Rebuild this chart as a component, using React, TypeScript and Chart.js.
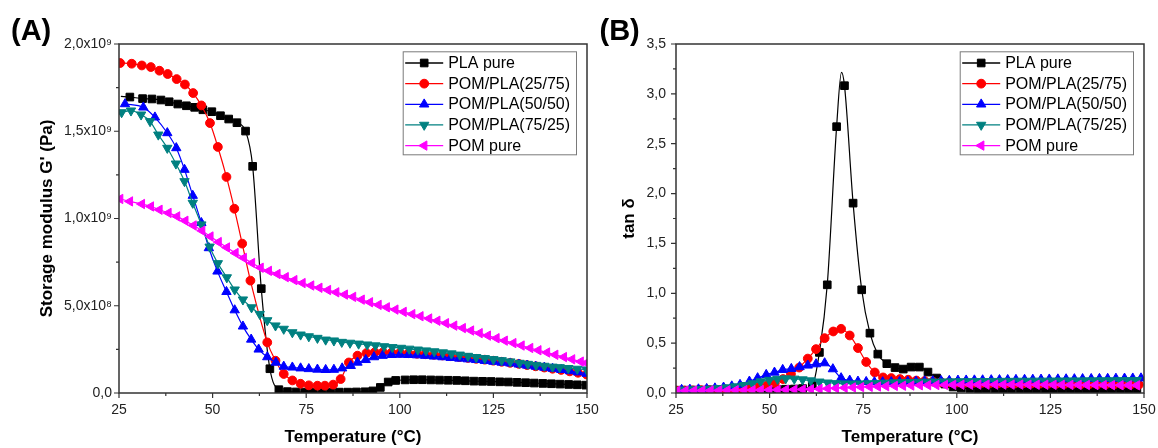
import React, { useEffect, useRef } from "react";
import { Chart, registerables } from "chart.js";

Chart.register(...registerables);

const FONT = 'Arial, "Liberation Sans", Helvetica, sans-serif';
const AXIS_COLOR = "#333333";

// ---------- shared series styling ----------
const seriesLabels = ["PLA pure", "POM/PLA(25/75)", "POM/PLA(50/50)", "POM/PLA(75/25)", "POM pure"];
const seriesColors = ["#000000", "#FF0000", "#0000FF", "#008080", "#FF00FF"];
const markerStyles = ["rect", "circle", "triangle", "triangle", "triangle"];
const markerRotations = [0, 0, 0, 180, -90];
const markerRadii = [5.4, 4.4, 5.4, 5.4, 5.4];

// ---------- axis tick labels ----------
const xTickLabels = ["25", "50", "75", "100", "125", "150"];
const yTickLabelsA = ["0,0", "5,0x10⁸", "1,0x10⁹", "1,5x10⁹", "2,0x10⁹"];
const yTickLabelsB = ["0,0", "0,5", "1,0", "1,5", "2,0", "2,5", "3,0", "3,5"];

// ---------- Panel A : storage modulus (units of 10^9 Pa) ----------
const plaTempA = [25.5, 27.9, 31.3, 33.8, 36.2, 38.4, 40.7, 43.0, 45.2, 47.4, 49.8, 52.1, 54.3, 56.5, 58.8, 60.7, 63.0, 65.3, 67.7, 70.0, 72.3, 74.6, 76.9, 79.2, 81.5, 83.8, 86.1, 88.4, 90.7, 92.8, 94.8, 96.9, 98.9, 101.4, 103.7, 106.0, 108.3, 110.6, 112.9, 115.2, 117.5, 119.8, 122.1, 124.4, 126.7, 129.0, 131.3, 133.6, 135.9, 138.2, 140.5, 142.8, 145.1, 147.4, 149.7];
const plaModA = [1.700, 1.696, 1.687, 1.685, 1.679, 1.669, 1.656, 1.646, 1.637, 1.623, 1.612, 1.589, 1.570, 1.549, 1.501, 1.299, 0.598, 0.139, 0.019, 0.008, 0.006, 0.005, 0.005, 0.005, 0.005, 0.005, 0.005, 0.006, 0.007, 0.012, 0.032, 0.063, 0.072, 0.075, 0.076, 0.076, 0.075, 0.074, 0.073, 0.072, 0.070, 0.068, 0.067, 0.066, 0.064, 0.063, 0.061, 0.059, 0.057, 0.055, 0.053, 0.051, 0.049, 0.047, 0.045];
const plaLineOnlyA = [0];

const b2575TempA = [25.3, 28.4, 31.1, 33.5, 35.8, 38.0, 40.4, 42.6, 44.8, 47.0, 49.3, 51.4, 53.7, 55.8, 57.9, 60.1, 64.6, 66.8, 69.0, 71.3, 73.5, 75.7, 78.0, 80.0, 82.2, 84.2, 86.4, 88.7, 91.1, 93.3, 95.5, 97.8, 100.0, 102.3, 104.6, 106.8, 109.1, 111.4, 113.6, 115.9, 118.2, 120.4, 122.7, 125.0, 127.2, 129.5, 131.8, 134.0, 136.3, 138.6, 140.8, 143.1, 145.4, 147.6, 149.9];
const b2575ModA = [1.891, 1.887, 1.877, 1.868, 1.847, 1.828, 1.799, 1.768, 1.719, 1.648, 1.547, 1.410, 1.238, 1.056, 0.856, 0.644, 0.290, 0.185, 0.109, 0.072, 0.053, 0.044, 0.042, 0.042, 0.048, 0.080, 0.175, 0.214, 0.229, 0.233, 0.233, 0.231, 0.230, 0.228, 0.225, 0.222, 0.219, 0.215, 0.211, 0.206, 0.201, 0.196, 0.191, 0.185, 0.179, 0.173, 0.167, 0.160, 0.153, 0.146, 0.139, 0.132, 0.124, 0.116, 0.106];

const b5050TempA = [26.6, 31.5, 34.6, 37.9, 40.3, 42.5, 44.7, 47.0, 49.0, 51.3, 53.7, 55.9, 58.1, 60.3, 62.3, 64.6, 66.9, 69.0, 71.3, 73.5, 75.7, 78.0, 80.2, 82.4, 84.6, 86.9, 88.7, 90.9, 93.1, 95.4, 97.8, 100.0, 102.3, 104.6, 106.8, 109.1, 111.4, 113.6, 115.9, 118.2, 120.4, 122.7, 125.0, 127.2, 129.5, 131.8, 134.0, 136.3, 138.6, 140.8, 143.1, 145.4, 147.6, 149.9];
const b5050ModA = [1.656, 1.637, 1.580, 1.490, 1.404, 1.280, 1.131, 0.975, 0.831, 0.697, 0.580, 0.475, 0.382, 0.307, 0.250, 0.206, 0.175, 0.152, 0.147, 0.142, 0.138, 0.135, 0.133, 0.134, 0.142, 0.156, 0.175, 0.190, 0.206, 0.214, 0.219, 0.220, 0.219, 0.217, 0.214, 0.210, 0.206, 0.202, 0.198, 0.194, 0.190, 0.185, 0.180, 0.175, 0.170, 0.164, 0.158, 0.152, 0.146, 0.140, 0.133, 0.126, 0.119, 0.111];

const b7525TempA = [25.7, 28.2, 30.9, 33.3, 35.5, 37.9, 40.2, 42.5, 44.7, 47.0, 49.2, 51.4, 53.8, 55.9, 58.1, 60.4, 62.6, 64.6, 66.8, 69.0, 71.3, 73.5, 75.7, 78.0, 80.2, 82.4, 84.5, 86.7, 89.0, 91.3, 93.5, 95.8, 98.0, 100.3, 102.5, 104.8, 107.0, 109.2, 111.5, 113.8, 116.0, 118.2, 120.4, 122.7, 125.0, 127.2, 129.5, 132.0, 134.2, 136.4, 138.6, 140.8, 142.7, 145.0, 147.4, 149.9];
const b7525ModA = [1.608, 1.618, 1.595, 1.557, 1.480, 1.404, 1.314, 1.213, 1.089, 0.965, 0.838, 0.743, 0.662, 0.592, 0.535, 0.490, 0.452, 0.416, 0.386, 0.367, 0.347, 0.334, 0.324, 0.315, 0.305, 0.300, 0.292, 0.287, 0.282, 0.277, 0.272, 0.267, 0.262, 0.258, 0.253, 0.248, 0.243, 0.238, 0.232, 0.226, 0.219, 0.212, 0.205, 0.199, 0.193, 0.187, 0.180, 0.172, 0.166, 0.160, 0.155, 0.150, 0.147, 0.142, 0.138, 0.134];

const pomTempA = [25.3, 27.9, 31.1, 33.5, 35.8, 38.2, 40.5, 42.7, 44.9, 47.2, 49.4, 51.6, 53.8, 56.1, 58.3, 60.5, 62.8, 65.0, 67.3, 69.5, 71.8, 74.0, 76.3, 78.5, 80.8, 83.0, 85.3, 87.5, 89.8, 92.0, 94.3, 96.5, 98.8, 101.0, 103.3, 105.5, 107.8, 110.0, 112.3, 114.5, 116.8, 119.0, 121.3, 123.5, 125.8, 128.0, 130.3, 132.5, 134.8, 137.0, 139.3, 141.5, 143.8, 146.0, 148.3, 149.8];
const pomModA = [1.112, 1.098, 1.083, 1.069, 1.050, 1.032, 1.012, 0.987, 0.960, 0.930, 0.897, 0.865, 0.834, 0.802, 0.774, 0.745, 0.718, 0.700, 0.682, 0.664, 0.647, 0.630, 0.616, 0.603, 0.590, 0.577, 0.564, 0.551, 0.535, 0.520, 0.505, 0.491, 0.478, 0.465, 0.452, 0.440, 0.427, 0.414, 0.400, 0.386, 0.372, 0.358, 0.343, 0.329, 0.314, 0.300, 0.286, 0.272, 0.258, 0.245, 0.232, 0.219, 0.206, 0.193, 0.180, 0.172];

// ---------- Panel B : tan delta ----------
const plaTempB = [25.3, 27.5, 29.8, 32.0, 34.2, 36.5, 38.7, 40.9, 43.2, 45.4, 47.6, 49.9, 52.1, 54.3, 56.6, 58.8, 61.4, 63.3, 65.4, 67.9, 69.2, 70.0, 72.3, 74.6, 76.8, 78.9, 81.3, 83.5, 85.7, 87.8, 90.0, 92.3, 94.6, 96.8, 99.0, 101.2, 103.5, 105.7, 107.9, 110.2, 112.4, 114.6, 116.9, 119.1, 121.3, 123.6, 125.8, 128.0, 130.3, 132.5, 134.7, 137.0, 139.2, 141.4, 143.7, 145.9, 148.1];
const plaTanB = [0.028, 0.028, 0.029, 0.029, 0.030, 0.030, 0.031, 0.031, 0.032, 0.033, 0.034, 0.035, 0.036, 0.038, 0.040, 0.045, 0.076, 0.407, 1.085, 2.671, 3.215, 3.082, 1.904, 1.035, 0.600, 0.390, 0.294, 0.255, 0.240, 0.260, 0.260, 0.210, 0.150, 0.090, 0.060, 0.050, 0.046, 0.043, 0.041, 0.040, 0.039, 0.038, 0.037, 0.037, 0.036, 0.036, 0.035, 0.035, 0.035, 0.034, 0.034, 0.034, 0.033, 0.033, 0.033, 0.033, 0.033];
const plaLineOnlyB = [20];

const b2575TempB = [25.1, 27.3, 29.5, 31.7, 33.9, 36.1, 38.3, 40.5, 42.7, 44.9, 47.1, 49.3, 51.4, 53.6, 55.7, 57.9, 60.2, 62.4, 64.7, 67.0, 69.1, 71.4, 73.6, 75.8, 78.1, 80.3, 82.5, 84.8, 87.0, 89.2, 91.4, 93.6, 95.8, 98.0, 100.2, 102.4, 104.6, 106.8, 109.0, 111.2, 113.4, 115.6, 117.8, 120.0, 122.2, 124.4, 126.6, 128.8, 131.0, 133.2, 135.4, 137.6, 139.8, 142.0, 144.2, 146.4, 148.6];
const b2575TanB = [0.024, 0.025, 0.026, 0.028, 0.030, 0.032, 0.035, 0.040, 0.045, 0.050, 0.060, 0.076, 0.100, 0.140, 0.190, 0.255, 0.345, 0.440, 0.550, 0.617, 0.644, 0.577, 0.451, 0.311, 0.206, 0.156, 0.150, 0.140, 0.133, 0.125, 0.120, 0.115, 0.110, 0.108, 0.105, 0.104, 0.103, 0.102, 0.101, 0.100, 0.099, 0.098, 0.097, 0.096, 0.095, 0.094, 0.093, 0.092, 0.091, 0.090, 0.089, 0.088, 0.087, 0.086, 0.085, 0.084, 0.083];

const b5050TempB = [26.5, 28.7, 31.0, 33.2, 35.4, 37.7, 39.9, 42.1, 44.6, 46.8, 49.1, 51.3, 53.5, 55.8, 58.0, 60.2, 62.4, 64.7, 66.9, 69.1, 71.4, 73.6, 75.8, 78.0, 80.2, 82.5, 84.7, 86.9, 89.1, 91.4, 93.6, 95.8, 98.0, 100.3, 102.5, 104.7, 106.9, 109.2, 111.4, 113.6, 115.8, 118.1, 120.3, 122.5, 124.7, 127.0, 129.2, 131.4, 133.6, 135.9, 138.1, 140.3, 142.5, 144.8, 147.0, 149.2];
const b5050TanB = [0.033, 0.035, 0.038, 0.042, 0.048, 0.056, 0.068, 0.083, 0.116, 0.150, 0.183, 0.206, 0.233, 0.243, 0.261, 0.277, 0.290, 0.300, 0.240, 0.150, 0.126, 0.116, 0.112, 0.110, 0.110, 0.111, 0.112, 0.114, 0.116, 0.118, 0.120, 0.122, 0.124, 0.126, 0.127, 0.128, 0.129, 0.130, 0.131, 0.132, 0.133, 0.134, 0.135, 0.136, 0.137, 0.138, 0.139, 0.140, 0.141, 0.142, 0.143, 0.144, 0.145, 0.146, 0.147, 0.148];

const blendTempB = [25.3, 27.5, 29.8, 32.0, 34.2, 36.5, 38.7, 40.9, 43.2, 45.4, 47.6, 49.9, 52.1, 54.3, 56.6, 58.8, 61.0, 63.3, 65.5, 67.7, 70.0, 72.2, 74.4, 76.7, 78.9, 81.1, 83.4, 85.6, 87.8, 90.1, 92.3, 94.5, 96.8, 99.0, 101.2, 103.5, 105.7, 107.9, 110.2, 112.4, 114.6, 116.9, 119.1, 121.3, 123.6, 125.8, 128.0, 130.3, 132.5, 134.7, 137.0, 139.2, 141.4, 143.7, 145.9, 148.1];
const b7525TanB = [0.030, 0.032, 0.035, 0.038, 0.042, 0.048, 0.055, 0.065, 0.078, 0.095, 0.115, 0.130, 0.140, 0.145, 0.142, 0.135, 0.125, 0.113, 0.103, 0.097, 0.094, 0.093, 0.094, 0.096, 0.099, 0.102, 0.105, 0.107, 0.109, 0.111, 0.112, 0.113, 0.114, 0.115, 0.116, 0.117, 0.118, 0.118, 0.119, 0.120, 0.120, 0.121, 0.121, 0.122, 0.122, 0.123, 0.123, 0.124, 0.124, 0.125, 0.125, 0.126, 0.126, 0.127, 0.127, 0.128];
const pomTanB = [0.022, 0.023, 0.024, 0.025, 0.025, 0.026, 0.027, 0.028, 0.028, 0.029, 0.030, 0.031, 0.032, 0.033, 0.034, 0.036, 0.038, 0.041, 0.044, 0.048, 0.052, 0.056, 0.059, 0.062, 0.065, 0.068, 0.071, 0.073, 0.075, 0.077, 0.079, 0.080, 0.081, 0.082, 0.083, 0.083, 0.084, 0.084, 0.084, 0.084, 0.084, 0.084, 0.083, 0.083, 0.083, 0.082, 0.082, 0.081, 0.081, 0.080, 0.080, 0.079, 0.079, 0.078, 0.078, 0.077];

type SeriesIn = { temps: number[]; values: number[]; lineOnly?: number[] };

const panelASeries: SeriesIn[] = [
  { temps: plaTempA, values: plaModA, lineOnly: plaLineOnlyA },
  { temps: b2575TempA, values: b2575ModA },
  { temps: b5050TempA, values: b5050ModA },
  { temps: b7525TempA, values: b7525ModA },
  { temps: pomTempA, values: pomModA },
];
const panelBSeries: SeriesIn[] = [
  { temps: plaTempB, values: plaTanB, lineOnly: plaLineOnlyB },
  { temps: b2575TempB, values: b2575TanB },
  { temps: b5050TempB, values: b5050TanB },
  { temps: blendTempB, values: b7525TanB },
  { temps: blendTempB, values: pomTanB },
];

type PanelCfg = {
  canvasLeft: number;
  canvasWidth: number;
  yAxisWidth: number;
  rightPad: number;
  yMax: number;
  yStep: number;
  yTickLabels: string[];
  yTitle: string;
  yTitlePad: number;
  yTickPad: number;
  panelLabel: string;
  panelLabelX: number;
  series: SeriesIn[];
};

const panelA: PanelCfg = {
  canvasLeft: 0, canvasWidth: 612, yAxisWidth: 119, rightPad: 25,
  yMax: 2, yStep: 0.5, yTickLabels: yTickLabelsA,
  yTitle: "Storage modulus G' (Pa)", yTitlePad: 37, yTickPad: 7,
  panelLabel: "(A)", panelLabelX: 11, series: panelASeries,
};
const panelB: PanelCfg = {
  canvasLeft: 595, canvasWidth: 563, yAxisWidth: 81, rightPad: 14,
  yMax: 3.5, yStep: 0.5, yTickLabels: yTickLabelsB,
  yTitle: "tan δ", yTitlePad: 24, yTickPad: 10,
  panelLabel: "(B)", panelLabelX: 4.5, series: panelBSeries,
};

function drawMarker(ctx: CanvasRenderingContext2D, style: string, rotDeg: number, x: number, y: number, r: number, color: string) {
  ctx.save();
  ctx.fillStyle = color;
  ctx.strokeStyle = color;
  ctx.lineWidth = 1;
  ctx.beginPath();
  if (style === "rect") {
    const s = Math.SQRT1_2 * r;
    ctx.rect(x - s, y - s, 2 * s, 2 * s);
  } else if (style === "circle") {
    ctx.arc(x, y, r, 0, Math.PI * 2);
  } else {
    let rad = (rotDeg * Math.PI) / 180;
    ctx.moveTo(x + Math.sin(rad) * r, y - Math.cos(rad) * r);
    rad += (2 * Math.PI) / 3;
    ctx.lineTo(x + Math.sin(rad) * r, y - Math.cos(rad) * r);
    rad += (2 * Math.PI) / 3;
    ctx.lineTo(x + Math.sin(rad) * r, y - Math.cos(rad) * r);
    ctx.closePath();
  }
  ctx.fill();
  ctx.stroke();
  ctx.restore();
}

function makeDecor(p: PanelCfg) {
  return {
    id: "decor",
    afterDraw(chart: any) {
      const { ctx, chartArea: ca, scales } = chart;
      const xs = scales.x;
      const ys = scales.y;
      ctx.save();
      // frame
      ctx.strokeStyle = AXIS_COLOR;
      ctx.lineWidth = 1.5;
      ctx.strokeRect(ca.left, ca.top, ca.right - ca.left, ca.bottom - ca.top);
      // ticks
      ctx.lineWidth = 1.2;
      ctx.beginPath();
      const xv = xs.ticks.map((t: any) => t.value);
      xv.forEach((v: number, i: number) => {
        const px = xs.getPixelForValue(v);
        ctx.moveTo(px, ca.bottom);
        ctx.lineTo(px, ca.bottom + 5);
        if (i < xv.length - 1) {
          const m = xs.getPixelForValue((v + xv[i + 1]) / 2);
          ctx.moveTo(m, ca.bottom);
          ctx.lineTo(m, ca.bottom + 3);
        }
      });
      const yv = ys.ticks.map((t: any) => t.value);
      yv.forEach((v: number, i: number) => {
        const py = ys.getPixelForValue(v);
        ctx.moveTo(ca.left, py);
        ctx.lineTo(ca.left - 5, py);
        if (i < yv.length - 1) {
          const m = ys.getPixelForValue((v + yv[i + 1]) / 2);
          ctx.moveTo(ca.left, m);
          ctx.lineTo(ca.left - 3, m);
        }
      });
      ctx.stroke();

      // panel label
      ctx.fillStyle = "#000";
      ctx.font = `bold 29px ${FONT}`;
      ctx.textBaseline = "alphabetic";
      ctx.textAlign = "left";
      ctx.fillText(p.panelLabel, p.panelLabelX, 40);

      // legend
      const boxW = 173.3;
      const boxH = 103;
      const boxL = ca.right - 11 - boxW;
      const boxT = ca.top + 7.3;
      ctx.fillStyle = "#fff";
      ctx.fillRect(boxL, boxT, boxW, boxH);
      ctx.strokeStyle = "#7a7a7a";
      ctx.lineWidth = 1;
      ctx.strokeRect(boxL + 0.5, boxT + 0.5, boxW, boxH);
      ctx.font = `16px ${FONT}`;
      ctx.textBaseline = "middle";
      chart.data.datasets.forEach((ds: any, i: number) => {
        const cy = boxT + 11.7 + 20.65 * i;
        ctx.strokeStyle = ds.borderColor;
        ctx.lineWidth = 1.3;
        ctx.beginPath();
        ctx.moveTo(boxL + 2.5, cy);
        ctx.lineTo(boxL + 40.5, cy);
        ctx.stroke();
        drawMarker(ctx, ds.pointStyle, ds.pointRotation, boxL + 21.5, cy, ds.markerRadius, ds.borderColor);
        ctx.fillStyle = "#000";
        ctx.fillText(ds.label, boxL + 45.5, cy + 0.5);
      });
      ctx.restore();
    },
  };
}

function buildConfig(p: PanelCfg): any {
  const datasets = p.series.map((s, i) => {
    const lineOnly = s.lineOnly || [];
    return {
      label: seriesLabels[i],
      data: s.temps.map((t, k) => ({ x: t, y: s.values[k] })),
      borderColor: seriesColors[i],
      backgroundColor: seriesColors[i],
      borderWidth: 1.2,
      pointStyle: markerStyles[i],
      pointRotation: markerRotations[i],
      markerRadius: markerRadii[i],
      pointRadius: (c: any) => (lineOnly.includes(c.dataIndex) ? 0 : markerRadii[i]),
      pointHoverRadius: 0,
      pointBorderWidth: 1,
      pointBorderColor: seriesColors[i],
      pointBackgroundColor: seriesColors[i],
      cubicInterpolationMode: "monotone",
      fill: false,
      clip: 0,
      order: 4 - i,
    };
  });
  return {
    type: "line",
    data: { datasets },
    options: {
      responsive: false,
      animation: false,
      devicePixelRatio: 1,
      events: [],
      layout: { padding: { top: 44, right: p.rightPad, left: 0, bottom: 0 } },
      plugins: { legend: { display: false }, tooltip: { enabled: false } },
      scales: {
        x: {
          type: "linear",
          min: 25,
          max: 150,
          grid: { display: false, drawTicks: false },
          border: { display: false },
          ticks: {
            stepSize: 25,
            padding: 9,
            color: "#222",
            font: { family: FONT, size: 14 },
            maxRotation: 0,
            autoSkip: false,
            callback: (v: number) => xTickLabels[Math.round((v - 25) / 25)],
          },
          title: {
            display: true,
            text: "Temperature (°C)",
            color: "#000",
            font: { family: FONT, size: 17, weight: "bold" },
            padding: { top: 0, bottom: 0 },
          },
          afterFit: (s: any) => {
            s.height = 55;
            s.paddingLeft = 0;
            s.paddingRight = 0;
          },
        },
        y: {
          type: "linear",
          min: 0,
          max: p.yMax,
          grid: { display: false, drawTicks: false },
          border: { display: false },
          ticks: {
            stepSize: p.yStep,
            padding: p.yTickPad,
            color: "#222",
            font: { family: FONT, size: 14 },
            autoSkip: false,
            callback: (v: number) => p.yTickLabels[Math.round(v / p.yStep)],
          },
          title: {
            display: true,
            text: p.yTitle,
            color: "#000",
            font: { family: FONT, size: 17, weight: "bold" },
            padding: { top: p.yTitlePad, bottom: 0 },
          },
          afterFit: (s: any) => {
            s.width = p.yAxisWidth;
            s.paddingTop = 0;
            s.paddingBottom = 0;
          },
        },
      },
    },
    plugins: [makeDecor(p)],
  };
}

function Panel({ cfg }: { cfg: PanelCfg }) {
  const ref = useRef<HTMLCanvasElement | null>(null);
  useEffect(() => {
    if (!ref.current) return;
    const chart = new Chart(ref.current, buildConfig(cfg));
    return () => chart.destroy();
  }, [cfg]);
  return (
    <canvas
      ref={ref}
      width={cfg.canvasWidth}
      height={448}
      style={{ position: "absolute", left: cfg.canvasLeft, top: 0, width: cfg.canvasWidth, height: 448 }}
    />
  );
}

export default function App() {
  return (
    <div style={{ position: "fixed", left: 0, top: 0, width: 1158, height: 448, background: "#ffffff", overflow: "hidden" }}>
      <Panel cfg={panelA} />
      <Panel cfg={panelB} />
    </div>
  );
}
